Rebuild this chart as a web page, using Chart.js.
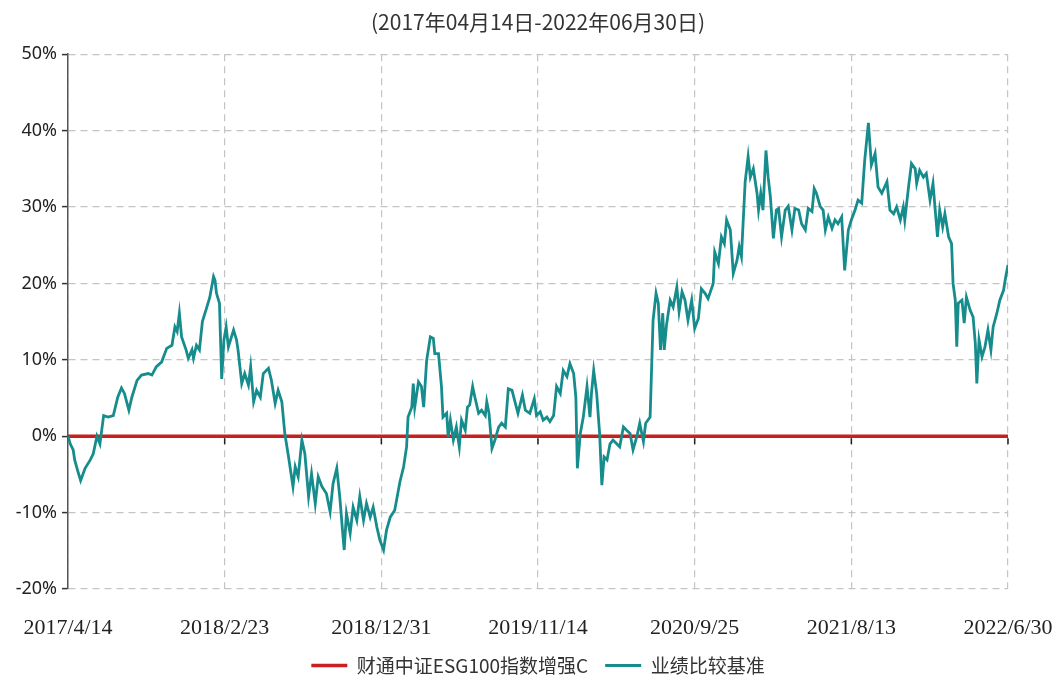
<!DOCTYPE html>
<html>
<head>
<meta charset="utf-8">
<script src="https://cdn.jsdelivr.net/npm/chart.js@4.4.1/dist/chart.umd.min.js"></script>
<style>
  html, body { margin: 0; padding: 0; background: #fff; }
  #wrap { width: 1057px; height: 681px; }
</style>
</head>
<body>
<div id="wrap"><canvas id="myChart" width="1057" height="681"></canvas></div>
<script>
// x = trading day index since 2017/4/14, y = cumulative return (%)
const tickLabels = ['2017/4/14', '2018/2/23', '2018/12/31', '2019/11/14', '2020/9/25', '2021/8/13', '2022/6/30'];
const lastDay = 1266;
const tickStep = 211;

const fundName = '财通中证ESG100指数增强C';
const fundDays = [0, 1266];
const fundValues = [0, 0];

const benchName = '业绩比较基准';
const benchDays = [
  0,3,7,9,13,17,23,30,34,39,
  43,48,54,61,67,72,76,82,86,93,
  99,108,113,119,126,133,140,144,147,150,
  153,159,162,167,169,173,177,181,187,191,
  196,198,200,204,207,210,213,216,223,227,
  229,234,238,243,246,250,254,259,263,270,
  274,279,283,288,292,297,299,303,306,310,
  315,319,324,328,333,337,342,348,353,357,
  362,366,370,372,375,380,384,389,393,398,
  402,407,411,416,420,425,429,434,440,447,
  452,456,458,463,465,467,472,476,479,483,
  488,492,494,499,503,505,510,512,515,519,
  523,527,530,535,538,541,545,548,553,557,
  562,564,567,571,575,580,584,589,593,598,
  602,606,612,616,622,628,631,636,640,645,
  649,654,658,663,667,672,676,681,684,686,
  690,694,699,703,705,708,712,716,719,722,
  726,730,734,739,743,748,752,757,761,766,
  770,775,778,784,788,792,795,798,801,803,
  806,811,815,820,823,827,831,835,840,844,
  849,853,858,862,869,871,876,880,884,887,
  892,896,901,904,907,912,916,919,923,928,
  930,933,936,940,943,946,950,954,957,961,
  966,970,975,979,984,988,993,997,1002,1005,
  1008,1013,1017,1020,1024,1029,1033,1037,1042,1046,
  1051,1055,1060,1064,1069,1073,1078,1082,1087,1091,
  1096,1103,1107,1112,1116,1121,1125,1127,1132,1136,
  1141,1143,1147,1152,1156,1161,1165,1168,1171,1174,
  1178,1181,1186,1190,1192,1195,1197,1199,1204,1207,
  1210,1215,1219,1222,1224,1227,1231,1235,1239,1243,
  1246,1251,1255,1260,1263,1266
];
const benchValues = [
  0,-1.0,-1.8,-3.1,-4.5,-5.8,-4.2,-3.1,-2.3,0,
  -1.0,2.7,2.5,2.7,5.1,6.3,5.6,3.4,5.1,7.3,
  8.0,8.2,8.0,9.1,9.7,11.5,11.9,14.3,13.7,16.1,
  13.0,11.3,10.2,11.3,10.2,11.9,11.3,15.0,16.9,18.2,
  20.9,20.4,18.7,17.4,7.5,12.6,14.3,11.7,13.9,12.6,
  11.3,6.9,8.2,6.7,9.1,4.5,6.0,5.1,8.2,8.9,
  7.3,4.3,6.0,4.5,0.35,-2.7,-4.0,-6.6,-4.0,-5.3,
  -0.5,-2.3,-7.9,-4.9,-8.8,-5.3,-6.6,-7.5,-9.9,-6.2,
  -4.2,-7.9,-12.7,-14.9,-10.1,-12.7,-9.3,-11.0,-7.9,-11.0,
  -8.8,-10.6,-9.3,-11.9,-13.6,-14.9,-12.3,-10.6,-9.7,-6.0,
  -4.0,-1.4,2.5,3.8,6.9,3.8,7.1,6.5,3.8,9.9,
  13.0,12.8,10.8,10.8,6.5,2.5,3.0,-0.1,2.1,-0.5,
  1.2,-1.4,2.1,0.8,3.8,4.1,6.5,5.1,3.0,3.4,
  2.7,4.5,3.0,-1.6,-0.5,1.2,1.7,1.2,6.2,6.0,
  4.5,3.0,5.4,3.4,3.0,4.9,2.7,3.2,2.1,2.5,
  1.9,2.7,6.5,5.6,8.6,7.8,9.5,8.2,5.1,-4.2,
  0.35,2.5,6.5,2.5,5.6,8.6,5.6,0.35,-6.4,-2.7,
  -3.1,-1.0,-0.5,-1.0,-1.4,1.2,0.8,0.35,-1.8,-0.1,
  1.7,-0.7,1.7,2.5,15.2,18.7,17.4,11.3,16.1,11.3,
  14.5,17.8,16.9,19.5,16.3,18.9,17.8,15.2,17.8,14.1,
  15.4,19.3,18.7,18.0,20.0,24.1,22.6,26.1,25.2,28.3,
  27.0,21.3,23.0,24.8,23.5,33.3,36.6,33.9,35.0,31.8,
  29.6,31.8,29.6,37.4,33.9,31.3,25.9,29.6,29.8,26.1,
  29.6,30.1,27.0,29.8,29.6,27.8,27.0,29.8,29.4,32.4,
  31.8,30.1,29.6,27.0,28.7,27.2,28.3,27.8,28.7,21.7,
  27.0,28.3,29.6,30.9,30.5,36.1,41.0,35.5,37.0,32.6,
  31.8,33.3,29.6,29.1,30.0,28.3,30.0,28.3,32.6,35.7,
  35.0,33.1,34.8,33.9,34.4,30.9,33.1,29.6,26.1,29.6,
  27.4,29.1,26.1,25.2,20.0,17.8,11.7,17.4,17.8,14.8,
  18.2,16.5,15.6,12.1,6.9,12.6,10.4,11.7,13.9,11.3,
  14.3,16.1,17.8,19.1,20.9,22.4
];

const toPoints = (xs, ys) => xs.map((d, i) => ({ x: d, y: ys[i] }));

// small tick marks hanging under the 0% line
const zeroTicks = {
  id: 'zeroTicks',
  afterDatasetsDraw: (chart) => {
    const xs = chart.scales.x, ys = chart.scales.y;
    const y0 = ys.getPixelForValue(0);
    const ctx = chart.ctx;
    ctx.save();
    ctx.strokeStyle = '#222';
    ctx.lineWidth = 1.5;
    xs.ticks.forEach((t, i) => {
      if (i === 0) return;
      const px = xs.getPixelForValue(t.value);
      ctx.beginPath();
      ctx.moveTo(px, y0 + 2);
      ctx.lineTo(px, y0 + 8);
      ctx.stroke();
    });
    ctx.restore();
  }
};

const ctx = document.getElementById('myChart').getContext('2d');
const myChart = new Chart(ctx, {
  type: 'line',
  data: {
    datasets: [{
      label: fundName,
      data: toPoints(fundDays, fundValues),
      borderColor: '#c8201e',
      backgroundColor: '#c8201e',
      borderWidth: 3.5,
      pointRadius: 0,
      pointStyle: 'line',
      order: 1,
      fill: false
    }, {
      label: benchName,
      data: toPoints(benchDays, benchValues),
      borderColor: '#178c8c',
      backgroundColor: '#178c8c',
      borderWidth: 2.8,
      pointRadius: 0,
      pointStyle: 'line',
      order: 0,
      fill: false
    }]
  },
  options: {
    responsive: false,
    animation: false,
    layout: { padding: 0 },
    plugins: {
      title: {
        display: true,
        fullSize: false,
        text: '(2017年04月14日-2022年06月30日)',
        color: '#333',
        font: { family: '"Noto Sans CJK SC", "Noto Sans"', size: 21, weight: 'normal', lineHeight: 1.2 },
        padding: { top: 9, bottom: 20 }
      },
      legend: {
        position: 'bottom',
        fullSize: false,
        maxHeight: 42,
        labels: {
          usePointStyle: true,
          pointStyleWidth: 36,
          padding: 17,
          color: '#333',
          font: { family: '"Noto Sans CJK SC", "Noto Sans"', size: 19 },
          sort: (a, b) => a.datasetIndex - b.datasetIndex
        }
      },
      tooltip: { enabled: false }
    },
    scales: {
      x: {
        type: 'linear',
        min: 0,
        max: lastDay,
        afterFit: (s) => { s.height = 50; s.paddingLeft = 0; s.paddingRight = 49; },
        grid: { color: '#c4c4c4', lineWidth: 1.2, drawTicks: false },
        border: { display: false, dash: [7, 5] },
        ticks: {
          stepSize: tickStep,
          autoSkip: false,
          maxRotation: 0,
          padding: 26,
          color: '#222',
          font: { family: '"Liberation Serif", serif', size: 22 },
          callback: (v, i) => tickLabels[i]
        }
      },
      y: {
        min: -20,
        max: 50,
        afterFit: (s) => { s.width = 68; },
        grid: { color: '#c4c4c4', lineWidth: 1.2, tickLength: 6, tickColor: '#333', tickWidth: 1.5 },
        border: { display: true, color: '#555', width: 1.5, dash: [7, 5] },
        ticks: {
          stepSize: 10,
          padding: 5,
          color: '#222',
          font: { family: '"Noto Sans", sans-serif', size: 18 },
          callback: (v) => v + '%'
        }
      }
    }
  },
  plugins: [zeroTicks]
});
</script>
</body>
</html>
